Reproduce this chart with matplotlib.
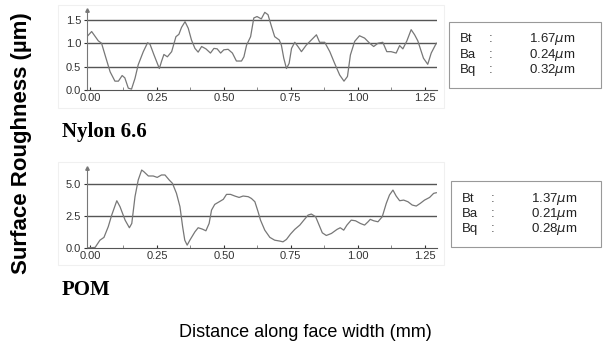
import numpy as np
import matplotlib.pyplot as plt
from matplotlib.patches import Rectangle

# profile data: distance (mm), height (um)
nylon_x = [-0.01, 0.006, 0.031, 0.043, 0.056, 0.075, 0.093, 0.106, 0.12, 0.13, 0.143, 0.155,
           0.168, 0.18, 0.199, 0.215, 0.224, 0.239, 0.259, 0.267, 0.276, 0.289, 0.305, 0.321,
           0.332, 0.342, 0.355, 0.367, 0.379, 0.392, 0.404, 0.417, 0.433, 0.45, 0.463, 0.475,
           0.488, 0.5, 0.516, 0.532, 0.547, 0.566, 0.575, 0.585, 0.6, 0.612, 0.624, 0.64,
           0.653, 0.665, 0.678, 0.69, 0.707, 0.715, 0.724, 0.734, 0.744, 0.753, 0.765, 0.777,
           0.79, 0.808, 0.827, 0.846, 0.858, 0.877, 0.896, 0.914, 0.933, 0.949, 0.962, 0.973,
           0.989, 1.007, 1.026, 1.045, 1.06, 1.076, 1.094, 1.109, 1.125, 1.144, 1.157, 1.169,
           1.184, 1.2, 1.213, 1.225, 1.234, 1.246, 1.262, 1.275, 1.294]
nylon_y = [1.15, 1.25, 1.05, 1.0, 0.75, 0.39, 0.19, 0.19, 0.31, 0.26, 0.04, 0.02,
           0.25, 0.54, 0.82, 1.01, 0.98, 0.75, 0.46, 0.61, 0.76, 0.71, 0.82, 1.14,
           1.19, 1.34, 1.46, 1.32, 1.07, 0.89, 0.81, 0.93, 0.88, 0.79, 0.89, 0.88,
           0.79, 0.86, 0.87, 0.79, 0.62, 0.62, 0.71, 0.96, 1.14, 1.54, 1.57, 1.52,
           1.66, 1.61, 1.36, 1.14, 1.07, 0.96, 0.68, 0.46, 0.57, 0.89, 1.02, 0.93,
           0.82, 0.96, 1.07, 1.18, 1.02, 1.02, 0.82, 0.57, 0.32, 0.19, 0.29, 0.75,
           1.04, 1.16, 1.11, 1.0, 0.93, 1.0, 1.02, 0.82, 0.82, 0.79, 0.95, 0.88,
           1.05, 1.29, 1.18, 1.05, 0.89, 0.68, 0.55, 0.79, 1.0]

pom_x = [-0.01, 0.0, 0.019, 0.037, 0.052, 0.068, 0.081, 0.1, 0.112, 0.131, 0.147, 0.156,
         0.168, 0.18, 0.193, 0.201, 0.218, 0.236, 0.251, 0.267, 0.28, 0.296, 0.308, 0.323,
         0.336, 0.346, 0.354, 0.363, 0.373, 0.392, 0.404, 0.42, 0.433, 0.445, 0.454, 0.466,
         0.483, 0.498, 0.51, 0.525, 0.541, 0.557, 0.572, 0.591, 0.603, 0.616, 0.628, 0.637,
         0.653, 0.672, 0.69, 0.709, 0.721, 0.734, 0.749, 0.765, 0.784, 0.799, 0.815, 0.827,
         0.843, 0.856, 0.868, 0.883, 0.902, 0.923, 0.935, 0.948, 0.96, 0.976, 0.992, 1.01,
         1.026, 1.039, 1.047, 1.06, 1.076, 1.092, 1.107, 1.119, 1.132, 1.144, 1.157, 1.172,
         1.188, 1.204, 1.219, 1.234, 1.25, 1.269, 1.284, 1.294]
pom_y = [0.0, 0.0, 0.03, 0.6, 0.82, 1.66, 2.58, 3.71, 3.24, 2.18, 1.58, 1.92,
         4.03, 5.34, 6.13, 6.0, 5.66, 5.66, 5.55, 5.74, 5.74, 5.34, 5.08, 4.29,
         3.24, 1.66, 0.6, 0.21, 0.6, 1.26, 1.58, 1.47, 1.34, 1.92, 2.97, 3.42,
         3.63, 3.82, 4.21, 4.21, 4.08, 3.97, 4.08, 4.03, 3.89, 3.63, 2.84, 2.18,
         1.39, 0.82, 0.6, 0.53, 0.47, 0.66, 1.08, 1.45, 1.79, 2.18, 2.58, 2.66,
         2.45, 1.79, 1.18, 0.97, 1.13, 1.45, 1.58, 1.39, 1.79, 2.18, 2.13, 1.92,
         1.79, 2.05, 2.24, 2.13, 2.05, 2.45, 3.5, 4.16, 4.55, 4.08, 3.71, 3.76,
         3.63, 3.37, 3.29, 3.5, 3.76, 3.97, 4.29, 4.34]

x_ticks = [0.0, 0.25, 0.5, 0.75, 1.0, 1.25]
nylon_yticks = [0.0, 0.5, 1.0, 1.5]
pom_yticks = [0.0, 2.5, 5.0]
nylon_params = ['1.67', '0.24', '0.32']
pom_params = ['1.37', '0.21', '0.28']
param_names = ['Bt', 'Ba', 'Bq']

plt.rcParams['font.family'] = ['Liberation Sans', 'DejaVu Sans']

fig = plt.figure(figsize=(6.03, 3.49), dpi=100)


def profile(rect, xs, ys, yticks, ymax, fmt):
    ax = fig.add_axes(rect)
    ax.plot(xs, ys, color='#777777', lw=0.9)
    for v in yticks[1:]:
        ax.axhline(v, color='#555555', lw=1.0, zorder=0)
    ax.set_xlim(-0.012, 1.295)
    ax.set_ylim(0, ymax)
    ax.set_xticks(x_ticks)
    ax.set_xticks(np.arange(0, 1.3, 0.125), minor=True)
    ax.set_xticklabels(['%.2f' % t for t in x_ticks])
    ax.set_yticks(yticks)
    ax.set_yticklabels([fmt % t for t in yticks])
    ax.tick_params(labelsize=8, colors='#333333', length=2, direction='in', pad=2)
    ax.tick_params(which='minor', length=2, direction='in', colors='#777777')
    ax.tick_params(axis='y', direction='out', length=2)
    for s in ['top', 'right']:
        ax.spines[s].set_visible(False)
    ax.spines['left'].set_color('#777777')
    ax.spines['bottom'].set_color('#555555')
    ax.spines['left'].set_linewidth(0.8)
    ax.plot([-0.012], [ymax], marker='^', ms=2.5, color='#777777', clip_on=False)
    return ax


# faint frames behind the two profiles
for fb, fh in [(0.69, 0.295), (0.24, 0.295)]:
    fig.patches.append(Rectangle((0.096, fb), 0.64, fh, transform=fig.transFigure,
                                 fill=False, edgecolor='#f0f0f0', lw=0.8, zorder=0))

profile([0.144, 0.742, 0.58, 0.228], nylon_x, nylon_y, nylon_yticks, 1.7, '%.1f')
profile([0.144, 0.290, 0.58, 0.229], pom_x, pom_y, pom_yticks, 6.3, '%.1f')


def param_box(left, bottom, top, values):
    fig.patches.append(Rectangle((left, bottom), 0.996 - left, top - bottom,
                                 transform=fig.transFigure, fill=False,
                                 edgecolor='#999999', lw=0.8))
    for i, (n, v) in enumerate(zip(param_names, values)):
        y = top - 0.05 - i * 0.044
        fig.text(left + 0.018, y, n, fontsize=9.5, va='center', color='#222222')
        fig.text(left + 0.066, y, ':', fontsize=9.5, va='center', color='#444444')
        fig.text(left + 0.21, y, v + r'$\mu$m', fontsize=9.5, va='center', ha='right',
                 color='#222222')


param_box(0.745, 0.748, 0.937, nylon_params)
param_box(0.748, 0.292, 0.481, pom_params)

fig.text(0.103, 0.622, 'Nylon 6.6', family='Liberation Serif', weight='bold', fontsize=15,
         va='center')
fig.text(0.103, 0.17, 'POM', family='Liberation Serif', weight='bold', fontsize=15,
         va='center')
fig.text(0.035, 0.59, u'Surface Roughness (\u00b5m)', rotation=90, weight='bold',
         fontsize=16, va='center', ha='center')
fig.text(0.506, 0.046, 'Distance along face width (mm)', fontsize=13, va='center',
         ha='center')

fig.savefig('out.png', dpi=100)
